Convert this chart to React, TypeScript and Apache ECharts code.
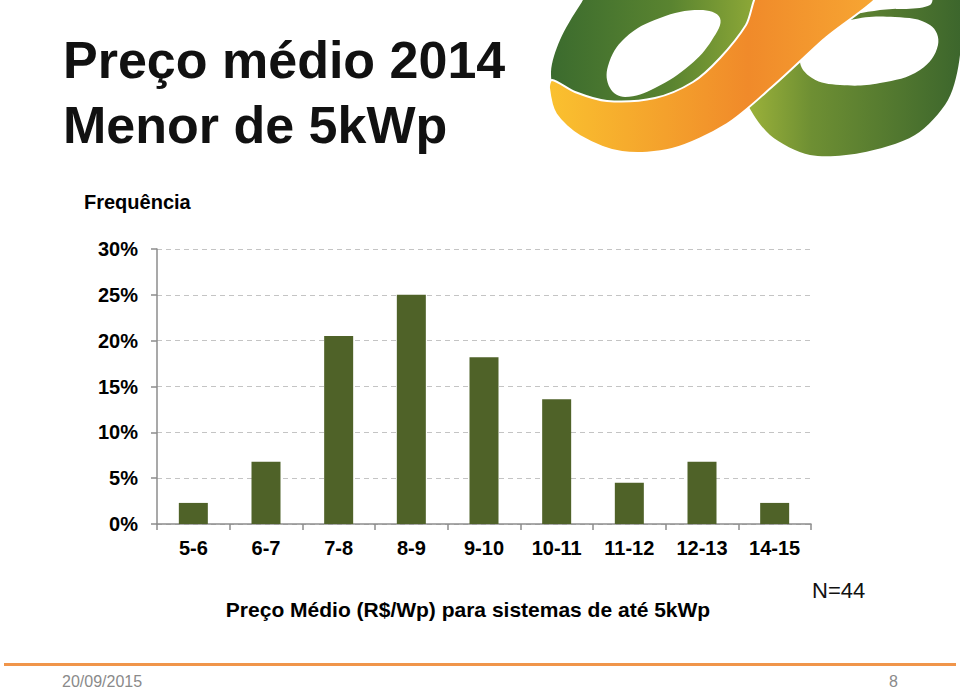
import React, { useEffect, useRef } from "react";
import * as echarts from "echarts";

const categories = ["5-6", "6-7", "7-8", "8-9", "9-10", "10-11", "11-12", "12-13", "14-15"];
const frequencyPct = [2.3, 6.8, 20.5, 25.0, 18.2, 13.6, 4.5, 6.8, 2.3];
const yTicks = { min: 0, max: 30, interval: 5 };
const titleLines = ["Preço médio 2014", "Menor de 5kWp"];
const yAxisTitle = "Frequência";
const xAxisTitle = "Preço Médio (R$/Wp) para sistemas de até 5kWp";
const sampleNote = "N=44";
const footerDate = "20/09/2015";
const footerPage = "8";

const FONT = "'Liberation Sans', Arial, Helvetica, sans-serif";

export default function App() {
  const ref = useRef<HTMLDivElement>(null);
  useEffect(() => {
    if (!ref.current) return;
    const chart = echarts.init(ref.current, null, { renderer: "svg" });
    const lg = (stops: [number, string][], x2 = 1, y2 = 0) =>
      new echarts.graphic.LinearGradient(0, 0, x2, y2, stops.map(([offset, color]) => ({ offset, color })));

    const option: any = {
      animation: false,
      backgroundColor: "#ffffff",
      grid: { left: 157, right: 149, top: 249, bottom: 164, containLabel: false },
      xAxis: {
        type: "category",
        data: categories,
        axisLine: { show: true, lineStyle: { color: "#8c8c8c", width: 1.5 } },
        axisTick: { show: true, length: 6, lineStyle: { color: "#8c8c8c", width: 1.5 } },
        axisLabel: { color: "#000", fontFamily: FONT, fontWeight: "bold", fontSize: 20, margin: 14 },
      },
      yAxis: {
        type: "value",
        min: yTicks.min,
        max: yTicks.max,
        interval: yTicks.interval,
        axisLine: { show: true, lineStyle: { color: "#8c8c8c", width: 1.5 } },
        axisTick: { show: true, length: 6, lineStyle: { color: "#8c8c8c", width: 1.5 } },
        splitLine: { show: true, lineStyle: { color: "#c4c4c4", type: [5, 4], width: 1 } },
        axisLabel: {
          color: "#000",
          fontFamily: FONT,
          fontWeight: "bold",
          fontSize: 20,
          margin: 19,
          formatter: "{value}%",
        },
      },
      series: [
        {
          type: "bar",
          data: frequencyPct,
          barWidth: 29,
          itemStyle: { color: "#4F6228" },
        },
      ],
      graphic: [
        // logo
        {
          type: "polygon",
          shape: {
            smooth: 0.3,
            points: [[558, 100], [551, 72], [560, 40], [580, 5], [600, -20], [790, -20], [770, 20], [745, 55], [715, 85], [670, 103], [620, 108], [580, 100]],
          },
          style: { fill: lg([[0, "#3B6B2E"], [0.5, "#5A8430"], [1, "#A4B83A"]]) },
          z: 1,
        },
        {
          type: "polygon",
          shape: {
            smooth: 0.4,
            points: [[608, 66], [625, 38], [660, 18], [700, 10], [720, 18], [712, 40], [690, 65], [655, 88], [625, 97], [610, 88]],
          },
          style: { fill: "#ffffff" },
          z: 2,
        },
        {
          type: "polygon",
          shape: {
            smooth: 0.3,
            points: [[730, 60], [745, 100], [770, 135], [810, 155], [860, 153], [915, 135], [948, 100], [960, 55], [962, -20], [935, -20], [930, 5], [880, 10], [830, 20], [790, 40]],
          },
          style: { fill: lg([[0, "#A9BC3C"], [0.35, "#6E8F33"], [1, "#3B652C"]]) },
          z: 1,
        },
        {
          type: "polygon",
          shape: {
            smooth: 0.4,
            points: [[800, 60], [815, 35], [850, 20], [895, 17], [930, 25], [938, 45], [920, 70], [880, 83], [840, 85], [812, 78]],
          },
          style: { fill: "#ffffff" },
          z: 2,
        },
        {
          type: "polygon",
          shape: {
            smooth: 0.3,
            points: [[549, 88], [556, 114], [580, 136], [622, 152], [672, 149], [727, 124], [773, 86], [823, 40], [880, -10], [762, -10], [746, 25], [720, 58], [693, 82], [655, 98], [607, 101], [575, 92], [552, 80]],
          },
          style: {
            fill: lg([[0, "#FAC12F"], [0.35, "#F4A12C"], [0.6, "#F08A2A"], [1, "#F7A733"]]),
            stroke: "#ffffff",
            lineWidth: 2,
          },
          z: 3,
        },
        // titles
        {
          type: "text",
          x: 63,
          y: 60,
          style: { text: titleLines[0], font: `bold 52px ${FONT}`, fill: "#111", textAlign: "left", textVerticalAlign: "middle" },
          z: 5,
        },
        {
          type: "text",
          x: 63,
          y: 125,
          style: { text: titleLines[1], font: `bold 52px ${FONT}`, fill: "#111", textAlign: "left", textVerticalAlign: "middle" },
          z: 5,
        },
        {
          type: "text",
          x: 84,
          y: 202,
          style: { text: yAxisTitle, font: `bold 20px ${FONT}`, fill: "#000", textAlign: "left", textVerticalAlign: "middle" },
        },
        {
          type: "text",
          x: 468,
          y: 609,
          style: { text: xAxisTitle, font: `bold 21px ${FONT}`, fill: "#000", textAlign: "center", textVerticalAlign: "middle" },
        },
        {
          type: "text",
          x: 812,
          y: 590,
          style: { text: sampleNote, font: `22px ${FONT}`, fill: "#111", textAlign: "left", textVerticalAlign: "middle" },
        },
        // footer
        {
          type: "rect",
          shape: { x: 4, y: 663, width: 952, height: 3 },
          style: { fill: "#F0954A" },
        },
        {
          type: "text",
          x: 62,
          y: 681,
          style: { text: footerDate, font: `16px ${FONT}`, fill: "#8a8a8a", textAlign: "left", textVerticalAlign: "middle" },
        },
        {
          type: "text",
          x: 898,
          y: 681,
          style: { text: footerPage, font: `16px ${FONT}`, fill: "#8a8a8a", textAlign: "right", textVerticalAlign: "middle" },
        },
      ],
    };
    chart.setOption(option);
    return () => chart.dispose();
  }, []);
  return (
    <div
      ref={ref}
      style={{ position: "absolute", left: 0, top: 0, width: 960, height: 688, background: "#fff" }}
    />
  );
}
